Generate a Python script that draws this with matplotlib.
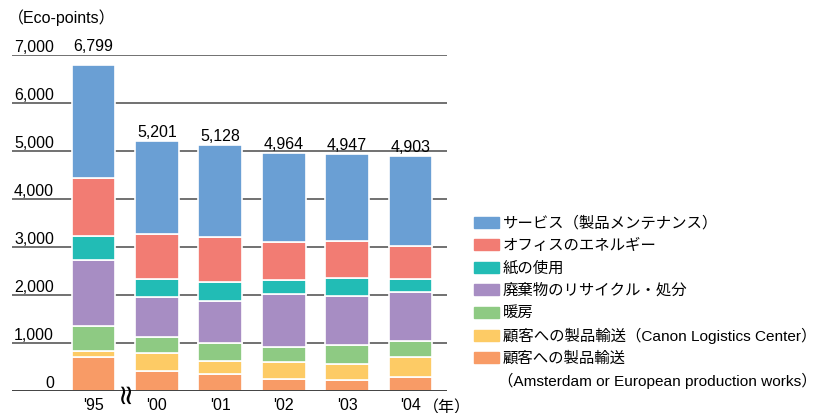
import numpy as np
import matplotlib.pyplot as plt
from matplotlib.patches import Rectangle

plt.rcParams['font.family'] = ['Liberation Sans', 'Noto Sans CJK JP']

years = ["'95", "'00", "'01", "'02", "'03", "'04"]
totals = [6799, 5201, 5128, 4964, 4947, 4903]

# stacked from the bottom up
transport_eu = [700, 410, 354, 243, 222, 285]
transport_canon = [140, 375, 278, 354, 341, 416]
heating = [520, 340, 375, 320, 388, 348]
waste = [1360, 826, 861, 1097, 1035, 1007]
paper = [500, 382, 396, 292, 361, 270]
office = [1210, 938, 951, 798, 785, 702]
service = [2369, 1930, 1913, 1860, 1815, 1875]

series = [transport_eu, transport_canon, heating, waste, paper, office, service]
names = ['顧客への製品輸送\n（Amsterdam or European production works）',
         '顧客への製品輸送（Canon Logistics Center）',
         '暖房',
         '廃棄物のリサイクル・処分',
         '紙の使用',
         'オフィスのエネルギー',
         'サービス（製品メンテナンス）']
colors = ['#F89B66', '#FDCB65', '#8ECA83', '#A78DC3', '#22BCB5', '#F27C73', '#6A9FD4']
yticks = [0, 1000, 2000, 3000, 4000, 5000, 6000, 7000]

W, H = 830, 414
fig = plt.figure(figsize=(W / 100, H / 100), dpi=100)
ax = fig.add_axes([12 / W, 22 / H, 435 / W, 336 / H])

x = np.arange(len(years))
bottom = np.zeros(len(years))
for vals, c in zip(series, colors):
    ax.bar(x, vals, 0.69, bottom=bottom, color=c, edgecolor='white', linewidth=1.2, zorder=2)
    bottom += np.array(vals)

ax.set_xlim(-1.285, 5.576)
ax.set_ylim(0, 7000)
for s in ax.spines.values():
    s.set_visible(False)
ax.set_yticks([])

# gridlines + labels sitting on top of them
for v in yticks:
    ax.axhline(v, color='#333333' if v == 0 else '#666666', lw=1.3, zorder=1 if v else 3)
    ax.annotate(f'{v:,}', (0.0966, v), xycoords=('axes fraction', 'data'),
                xytext=(0, 3), textcoords='offset points', ha='right', va='baseline', fontsize=11.5)

# total labels
for xi, t in zip(x, totals):
    ly = 7000 if t > 6500 else t
    ax.annotate(f'{t:,}', (xi, ly), xytext=(0, 3.5), textcoords='offset points',
                ha='center', va='baseline', fontsize=11.5)

ax.set_xticks(x, years, fontsize=11.5)
ax.tick_params(axis='x', length=0, pad=4)

# axis break mark between '95 and '00
ax.text(0.5, 0, '≈', rotation=90, ha='center', va='center', fontsize=20, zorder=4,
        family='DejaVu Sans')

fig.text(8 / W, 1 - 23 / H, '（Eco-points）', fontsize=11.5, va='baseline')
fig.text(423 / W, 1 - 412 / H, '（年）', fontsize=11.5, va='baseline')

# legend, top row = last series
row_y = [223, 245.6, 268.2, 290.8, 313.4, 336, 358.6]
for i, (name, c) in enumerate(zip(names[::-1], colors[::-1])):
    cy = row_y[i]
    fig.add_artist(Rectangle((474 / W, 1 - (cy + 5.5) / H), 25 / W, 11 / H,
                             transform=fig.transFigure, color=c))
    for j, ln in enumerate(name.split('\n')):
        fig.text((503 if j == 0 else 498) / W, 1 - (cy + 22.6 * j) / H, ln,
                 fontsize=11.1, va='center')

fig.savefig('out.png', dpi=100)
